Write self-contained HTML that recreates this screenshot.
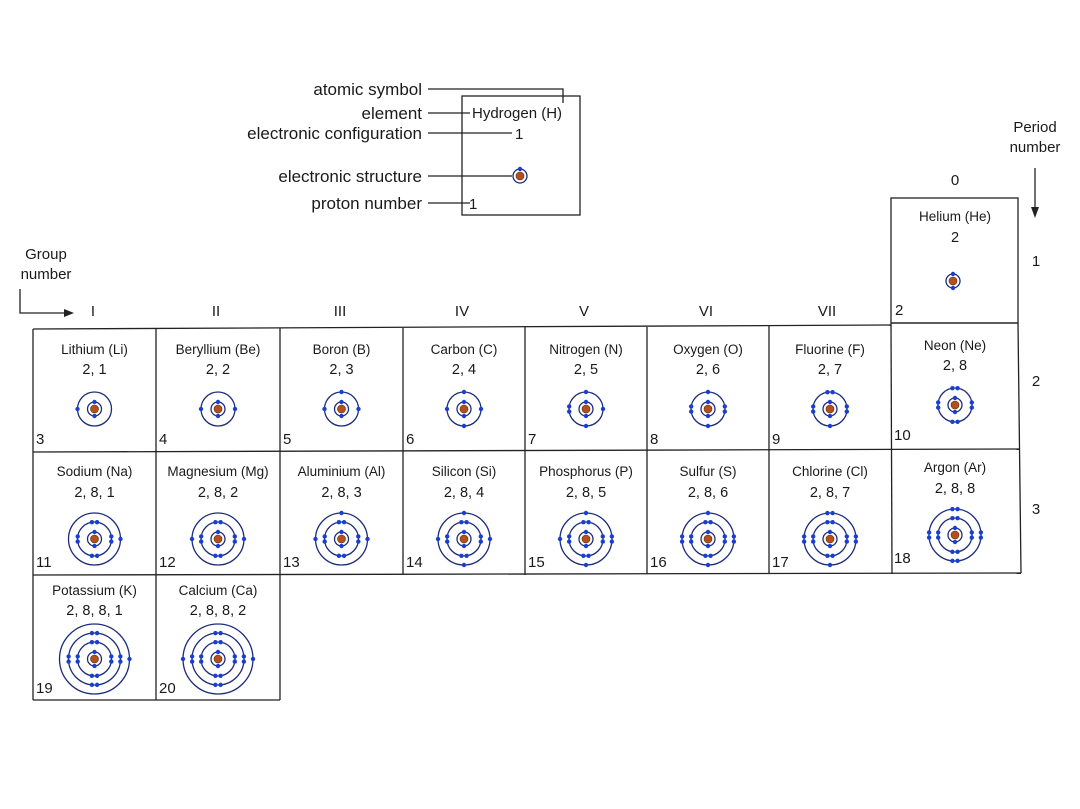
<!DOCTYPE html>
<html><head><meta charset="utf-8"><style>
html,body{margin:0;padding:0;background:#fff;}
svg{display:block;}
text{font-family:"Liberation Sans",sans-serif;fill:#1a1a1a;}
</style></head><body>
<svg id="s" width="1080" height="809" viewBox="0 0 1080 809" xmlns="http://www.w3.org/2000/svg">
<rect width="1080" height="809" fill="#fff"/>
<g stroke="#222" stroke-width="1.3" fill="none">
<!-- key box -->
<rect x="462" y="96" width="118" height="119"/>
<polyline points="428,89 563,89 563,103"/>
<line x1="428" y1="113" x2="470" y2="113"/>
<line x1="428" y1="133" x2="512" y2="133"/>
<line x1="428" y1="176" x2="512" y2="176"/>
<line x1="428" y1="203" x2="470" y2="203"/>
<!-- helium -->
<rect x="891" y="198" width="127" height="125"/>
<!-- main grid -->
<line x1="33" y1="329" x2="891" y2="325"/>
<line x1="891" y1="323" x2="1018" y2="323"/>
<line x1="33" y1="452" x2="1020" y2="449"/>
<line x1="33" y1="575" x2="1021" y2="573"/>
<line x1="33" y1="700" x2="280" y2="700"/>
<line x1="33" y1="329" x2="33" y2="700"/>
<line x1="156" y1="329" x2="156" y2="700"/>
<line x1="280" y1="328" x2="280" y2="700"/>
<line x1="403" y1="328" x2="403" y2="575"/>
<line x1="525" y1="327" x2="525" y2="575"/>
<line x1="647" y1="327" x2="647" y2="574"/>
<line x1="769" y1="326" x2="769" y2="574"/>
<line x1="891" y1="323" x2="892" y2="574"/>
<line x1="1018" y1="323" x2="1021" y2="573"/>
<!-- arrows -->
<polyline points="20,289 20,313 66,313"/>
<line x1="1035" y1="168" x2="1035" y2="208"/>
</g>
<polygon points="74,313 64,309 64,317" fill="#222"/>
<polygon points="1035,218 1031,207 1039,207" fill="#222"/>
<g font-size="17" text-anchor="end">
<text x="422" y="95">atomic symbol</text>
<text x="422" y="119">element</text>
<text x="422" y="139">electronic configuration</text>
<text x="422" y="182">electronic structure</text>
<text x="422" y="209">proton number</text>
</g>
<text x="472" y="118" font-size="15">Hydrogen (H)</text>
<text x="515" y="139" font-size="15">1</text>
<text x="469" y="209" font-size="15">1</text>
<g font-size="15" text-anchor="middle">
<text x="1035" y="132">Period</text>
<text x="1035" y="152">number</text>
<text x="46" y="259">Group</text>
<text x="46" y="279">number</text>
<text x="1036" y="266">1</text>
<text x="1036" y="386">2</text>
<text x="1036" y="514">3</text>
<text x="955" y="185">0</text>
<text x="93" y="316">I</text><text x="216" y="316">II</text><text x="340" y="316">III</text>
<text x="462" y="316">IV</text><text x="584" y="316">V</text><text x="706" y="316">VI</text><text x="827" y="316">VII</text>
</g>
<g id="cells"></g>
</svg>
<script>
var NS="http://www.w3.org/2000/svg",g=document.getElementById("cells");
function el(t,a,txt){var e=document.createElementNS(NS,t);for(var k in a)e.setAttribute(k,a[k]);if(txt)e.textContent=txt;g.appendChild(e);return e;}
var R=[7,17,26,35];
function atom(cx,cy,cfg){
 for(var i=0;i<cfg.length;i++){
  var r=R[i];el("circle",{cx:cx,cy:cy,r:r,fill:"none",stroke:"#1c2c7a","stroke-width":1.3});
 }
 el("circle",{cx:cx,cy:cy,r:4,fill:"#b5501c",stroke:"#5a2a10","stroke-width":0.6});
 for(var i=0;i<cfg.length;i++){
  var r=R[i],n=cfg[i];
  var sides=i==0?[-Math.PI/2,Math.PI/2]:(i==cfg.length-1&&i>=2?[0,Math.PI,-Math.PI/2,Math.PI/2]:[Math.PI,0,-Math.PI/2,Math.PI/2]);
  var cnt=[0,0,0,0];
  for(var k=0;k<n;k++)cnt[k%sides.length]++;
  for(var s=0;s<sides.length;s++){
   var a=sides[s],d=2.6/r;
   var angs=cnt[s]==1?[a]:cnt[s]==2?[a-d,a+d]:[];
   angs.forEach(function(t){el("circle",{cx:cx+r*Math.cos(t),cy:cy+r*Math.sin(t),r:2.2,fill:"#1a3fd0"});});
  }
 }
}
var cols=[94.5,218,341.5,464,586,708,830,955];
var data=[
 [["Lithium (Li)","2, 1",3],["Beryllium (Be)","2, 2",4],["Boron (B)","2, 3",5],["Carbon (C)","2, 4",6],["Nitrogen (N)","2, 5",7],["Oxygen (O)","2, 6",8],["Fluorine (F)","2, 7",9],["Neon (Ne)","2, 8",10]],
 [["Sodium (Na)","2, 8, 1",11],["Magnesium (Mg)","2, 8, 2",12],["Aluminium (Al)","2, 8, 3",13],["Silicon (Si)","2, 8, 4",14],["Phosphorus (P)","2, 8, 5",15],["Sulfur (S)","2, 8, 6",16],["Chlorine (Cl)","2, 8, 7",17],["Argon (Ar)","2, 8, 8",18]],
 [["Potassium (K)","2, 8, 8, 1",19],["Calcium (Ca)","2, 8, 8, 2",20]]];
var rows=[{ny:354,cy:374,ay:409,ny2:444,top:329},{ny:476,cy:497,ay:539,ny2:567,top:452},{ny:595,cy:615,ay:659,ny2:693,top:575}];
var lefts=[33,156,280,403,525,647,769,891];
data.forEach(function(row,ri){row.forEach(function(c,ci){
 var R0=rows[ri],dy=(ci==7)?-4:0;
 el("text",{x:cols[ci],y:R0.ny+dy,"font-size":13.5,"text-anchor":"middle"},c[0]);
 el("text",{x:cols[ci],y:R0.cy+dy,"font-size":14.5,"text-anchor":"middle"},c[1]);
 el("text",{x:lefts[ci]+3,y:R0.ny2+dy,"font-size":15},""+c[2]);
 atom(cols[ci],R0.ay+dy,c[1].split(", ").map(Number));
});});
el("text",{x:955,y:221,"font-size":13.5,"text-anchor":"middle"},"Helium (He)");
el("text",{x:955,y:242,"font-size":14.5,"text-anchor":"middle"},"2");
el("text",{x:895,y:315,"font-size":15},"2");
atom(953,281,[2]);
atom(520,176,[1]);
</script>
</body></html>
